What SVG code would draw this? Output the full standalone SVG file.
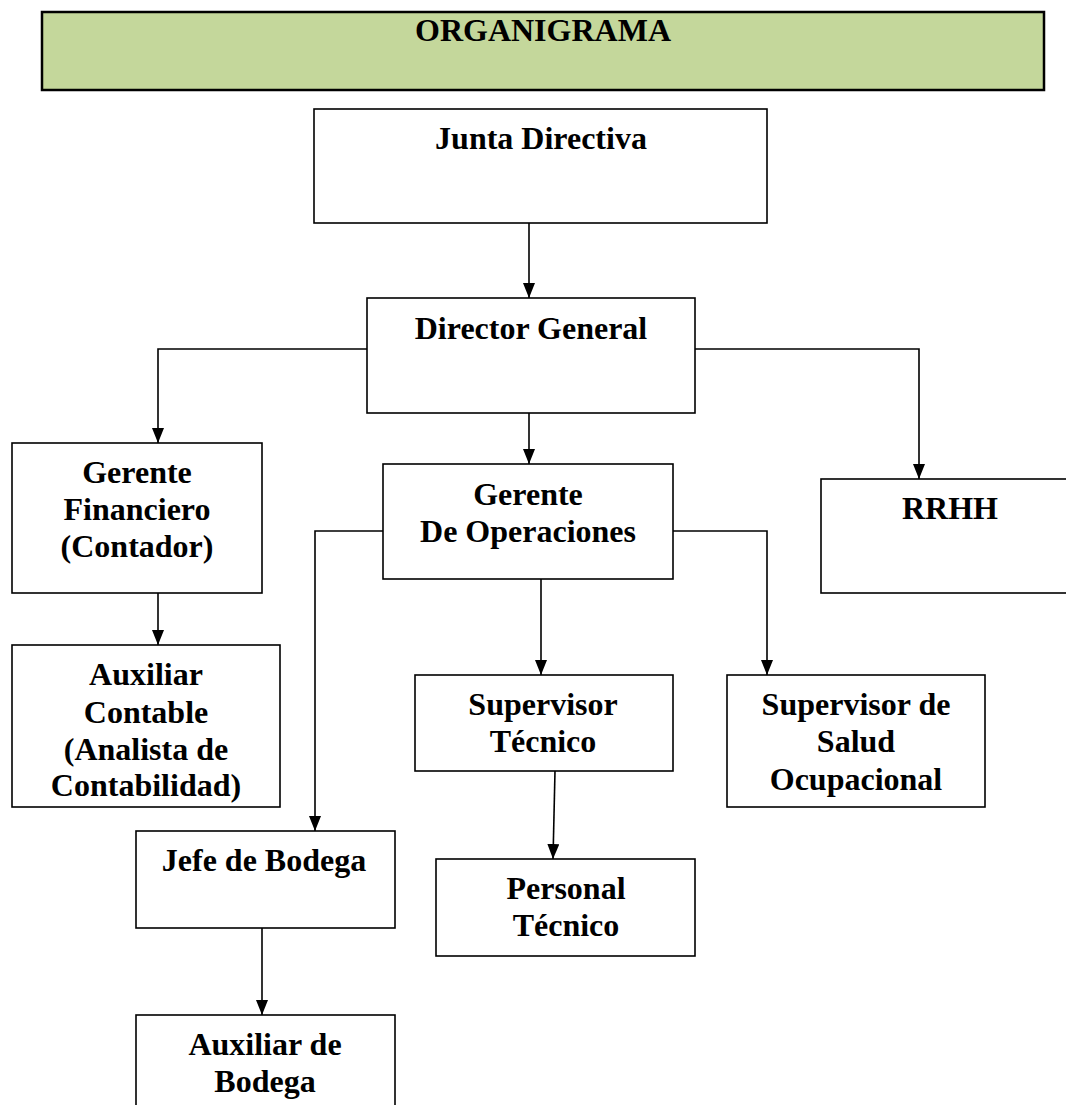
<svg xmlns="http://www.w3.org/2000/svg" width="1066" height="1105" viewBox="0 0 1066 1105">
<style>
.box{fill:#fff;stroke:#000;stroke-width:1.6}
.t{font-family:"Liberation Serif","Times New Roman",serif;font-weight:bold;font-size:32px;fill:#000;text-anchor:middle}
.c{fill:none;stroke:#000;stroke-width:1.6}
</style>
<defs>
<marker id="ah" markerUnits="userSpaceOnUse" viewBox="0 0 15 12" refX="15" refY="6" markerWidth="15" markerHeight="12" orient="auto">
<path d="M0,0 L15,6 L0,12 z" fill="#000"/>
</marker>
</defs>
<rect width="1066" height="1105" fill="#fff"/>
<g id="title">
<rect x="42" y="12" width="1002" height="78" fill="#c4d79b" stroke="#000" stroke-width="2.5"/>
<text class="t" x="543" y="41">ORGANIGRAMA</text>
</g>
<g id="connectors">
<path class="c" d="M529,223 V298" marker-end="url(#ah)"/>
<path class="c" d="M367,349 H158 V443" marker-end="url(#ah)"/>
<path class="c" d="M695,349 H919 V479" marker-end="url(#ah)"/>
<path class="c" d="M529,413 V464" marker-end="url(#ah)"/>
<path class="c" d="M158,593 V645" marker-end="url(#ah)"/>
<path class="c" d="M383,531 H315 V831" marker-end="url(#ah)"/>
<path class="c" d="M673,531 H767 V675" marker-end="url(#ah)"/>
<path class="c" d="M541,579 V675" marker-end="url(#ah)"/>
<path class="c" d="M555,771 L553,859" marker-end="url(#ah)"/>
<path class="c" d="M262,928 V1015" marker-end="url(#ah)"/>
</g>
<g id="junta">
<rect class="box" x="314" y="109" width="453" height="114"/>
<text class="t" x="541" y="149">Junta Directiva</text>
</g>
<g id="director">
<rect class="box" x="367" y="298" width="328" height="115"/>
<text class="t" x="531" y="339">Director General</text>
</g>
<g id="gerente-financiero">
<rect class="box" x="12" y="443" width="250" height="150"/>
<text class="t" x="137" y="483">Gerente</text>
<text class="t" x="137" y="520">Financiero</text>
<text class="t" x="137" y="557">(Contador)</text>
</g>
<g id="gerente-operaciones">
<rect class="box" x="383" y="464" width="290" height="115"/>
<text class="t" x="528" y="505">Gerente</text>
<text class="t" x="528" y="542">De Operaciones</text>
</g>
<g id="rrhh">
<rect class="box" x="821" y="479" width="250" height="114"/>
<text class="t" x="950" y="519">RRHH</text>
</g>
<g id="auxiliar-contable">
<rect class="box" x="12" y="645" width="268" height="162"/>
<text class="t" x="146" y="685">Auxiliar</text>
<text class="t" x="146" y="723">Contable</text>
<text class="t" x="146" y="760">(Analista de</text>
<text class="t" x="146" y="796">Contabilidad)</text>
</g>
<g id="supervisor-tecnico">
<rect class="box" x="415" y="675" width="258" height="96"/>
<text class="t" x="543" y="715">Supervisor</text>
<text class="t" x="543" y="752">Técnico</text>
</g>
<g id="supervisor-salud">
<rect class="box" x="727" y="675" width="258" height="132"/>
<text class="t" x="856" y="715">Supervisor de</text>
<text class="t" x="856" y="752">Salud</text>
<text class="t" x="856" y="790">Ocupacional</text>
</g>
<g id="jefe-bodega">
<rect class="box" x="136" y="831" width="259" height="97"/>
<text class="t" x="264" y="871">Jefe de Bodega</text>
</g>
<g id="personal-tecnico">
<rect class="box" x="436" y="859" width="259" height="97"/>
<text class="t" x="566" y="899">Personal</text>
<text class="t" x="566" y="936">Técnico</text>
</g>
<g id="auxiliar-bodega">
<rect class="box" x="136" y="1015" width="259" height="100"/>
<text class="t" x="265" y="1055">Auxiliar de</text>
<text class="t" x="265" y="1092">Bodega</text>
</g>
</svg>
